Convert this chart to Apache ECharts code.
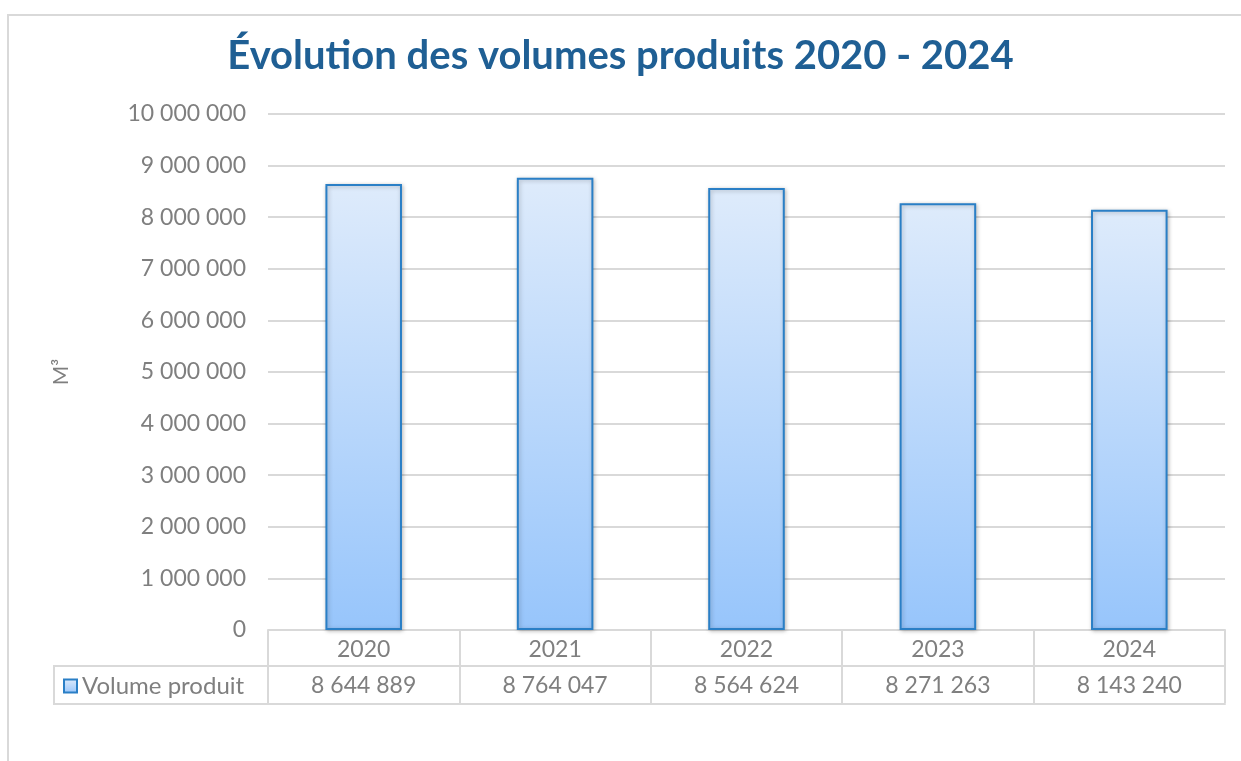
<!DOCTYPE html>
<html>
<head>
<meta charset="utf-8">
<script src="https://cdn.jsdelivr.net/npm/echarts@6/dist/echarts.min.js"></script>
<style>html,body{margin:0;padding:0;background:#fff;}#c{width:1241px;height:761px;}</style>
</head>
<body>
<div id="c"></div>
<script>
const titleText = 'Évolution des volumes produits 2020 - 2024';
const categories = ['2020', '2021', '2022', '2023', '2024'];
const seriesName = 'Volume produit';
const values = [8644889, 8764047, 8564624, 8271263, 8143240];
const yAxisName = 'M³';
const yMin = 0, yMax = 10000000, yStep = 1000000;

function fmt(n) { return String(n).replace(/\B(?=(\d{3})+(?!\d))/g, ' '); }

const FONT = 'Lato';
const GRAY = '#7f7f7f';
const LINE = '#d9d9d9';

const chart = echarts.init(document.getElementById('c'), null, {renderer: 'canvas'});
const barGrad = new echarts.graphic.LinearGradient(0, 0, 0, 1, [
  {offset: 0, color: '#deebfb'},
  {offset: 1, color: '#97c5fb'}
]);
const tableAxisBase = {
  type: 'category', position: 'bottom', gridIndex: 0,
  axisLine: {show: true, lineStyle: {color: LINE, width: 2}},
  axisTick: {show: true, length: 37, lineStyle: {color: LINE, width: 2}},
  splitLine: {show: false}
};
chart.setOption({
  animation: false,
  textStyle: {fontFamily: FONT},
  title: {
    text: titleText, left: 'center', top: 31,
    textStyle: {fontFamily: FONT, fontWeight: 'bold', fontSize: 40, color: '#1f5f94'}
  },
  legend: {
    show: true, left: 58, top: 669, icon: 'rect', itemWidth: 13, itemHeight: 13, itemGap: 0,
    textStyle: {fontFamily: FONT, fontSize: 24, color: GRAY, padding: [0, 0, 0, 0]},
    data: [seriesName]
  },
  grid: {left: 268, right: 16, top: 114, bottom: 131, containLabel: false},
  xAxis: [
    Object.assign({}, tableAxisBase, {
      data: categories,
      axisLabel: {color: GRAY, fontSize: 23, fontFamily: FONT, margin: 8}
    }),
    Object.assign({}, tableAxisBase, {
      data: values.map(fmt), offset: 36,
      axisLabel: {color: GRAY, fontSize: 23, fontFamily: FONT, margin: 8}
    }),
    Object.assign({}, tableAxisBase, {
      data: categories, offset: 74, axisTick: {show: false},
      axisLabel: {show: false}
    })
  ],
  yAxis: {
    type: 'value', min: yMin, max: yMax, interval: yStep,
    name: yAxisName, nameLocation: 'middle', nameGap: 196, nameRotate: 90,
    nameTextStyle: {color: GRAY, fontSize: 21, fontFamily: FONT},
    axisLine: {show: false}, axisTick: {show: false},
    axisLabel: {color: GRAY, fontSize: 23, fontFamily: FONT, margin: 22, formatter: v => fmt(v)},
    splitLine: {lineStyle: {color: LINE, width: 2}}
  },
  series: [{
    name: seriesName, type: 'bar', xAxisIndex: 0, data: values, barWidth: '40%',
    itemStyle: {
      color: barGrad, borderColor: '#2a7fc6', borderWidth: 2,
      shadowColor: 'rgba(0,0,0,0.25)', shadowBlur: 4, shadowOffsetX: 1, shadowOffsetY: 1
    }
  }],
  graphic: [
    {type: 'rect', silent: true, shape: {x: 8, y: 15, width: 1300, height: 800},
     style: {fill: 'none', stroke: LINE, lineWidth: 2}, z: -10},
    {type: 'rect', silent: true, shape: {x: 54, y: 666, width: 214, height: 38},
     style: {fill: 'none', stroke: LINE, lineWidth: 2}, z: -5}
  ]
});
</script>
</body>
</html>
